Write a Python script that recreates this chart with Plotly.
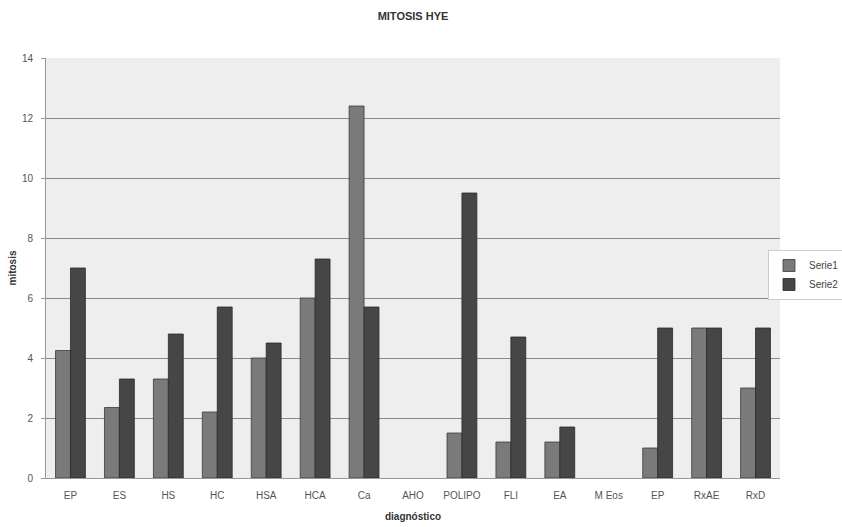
import plotly.graph_objects as go

categories = ["EP", "ES", "HS", "HC", "HSA", "HCA", "Ca", "AHO", "POLIPO", "FLI", "EA", "M Eos", "EP", "RxAE", "RxD"]
serie1 = [4.25, 2.35, 3.3, 2.2, 4.0, 6.0, 12.4, 0, 1.5, 1.2, 1.2, 0, 1.0, 5.0, 3.0]
serie2 = [7.0, 3.3, 4.8, 5.7, 4.5, 7.3, 5.7, 0, 9.5, 4.7, 1.7, 0, 5.0, 5.0, 5.0]
y_ticks = [0, 2, 4, 6, 8, 10, 12, 14]

positions = list(range(len(categories)))
FONT = "Liberation Sans, Arial, sans-serif"


def edge_widths(values):
    return [0.8 if v else 0 for v in values]


fig = go.Figure()
fig.add_trace(go.Bar(name="Serie1", x=positions, y=serie1,
                     marker=dict(color="#7a7a7a",
                                 line=dict(color="#3a3a3a", width=edge_widths(serie1)))))
fig.add_trace(go.Bar(name="Serie2", x=positions, y=serie2,
                     marker=dict(color="#464646",
                                 line=dict(color="#2a2a2a", width=edge_widths(serie2)))))

fig.update_layout(
    width=842, height=527,
    margin=dict(l=46, r=62, t=58, b=49, autoexpand=False),
    paper_bgcolor="white",
    plot_bgcolor="#eeeeee",
    barmode="group",
    bargap=0.39,
    bargroupgap=0,
    font=dict(family=FONT, size=10, color="#333333"),
    title=dict(text="<b>MITOSIS HYE</b>", x=(46 + 780) / 2 / 842, xanchor="center",
               y=1 - 16 / 527, yanchor="middle", font=dict(size=11, color="#333333")),
    legend=dict(xref="container", yref="container", x=768 / 842, y=1 - 250 / 527,
                xanchor="left", yanchor="top", bgcolor="white", bordercolor="#cccccc",
                borderwidth=1, itemwidth=30, font=dict(size=10, color="#444444"),
                tracegroupgap=0),
    xaxis=dict(tickmode="array", tickvals=positions, ticktext=categories,
               range=[-0.5, len(categories) - 0.5], showgrid=False,
               showline=True, linecolor="#999999", linewidth=1,
               ticks="", ticklabelstandoff=8, tickfont=dict(size=10, color="#555555"),
               title=dict(text="<b>diagnóstico</b>", standoff=12,
                          font=dict(size=10, color="#333333"))),
    yaxis=dict(range=[0, 14], tickmode="array", tickvals=y_ticks,
               showgrid=True, gridcolor="#8a8a8a", gridwidth=1,
               showline=True, linecolor="#999999", linewidth=1,
               ticks="outside", ticklen=4, tickcolor="#999999", ticklabelstandoff=6,
               tickfont=dict(size=10, color="#555555"), zeroline=False,
               title=dict(text="<b>mitosis</b>", standoff=3,
                          font=dict(size=10, color="#333333"))),
)

fig.write_html("out.html")
